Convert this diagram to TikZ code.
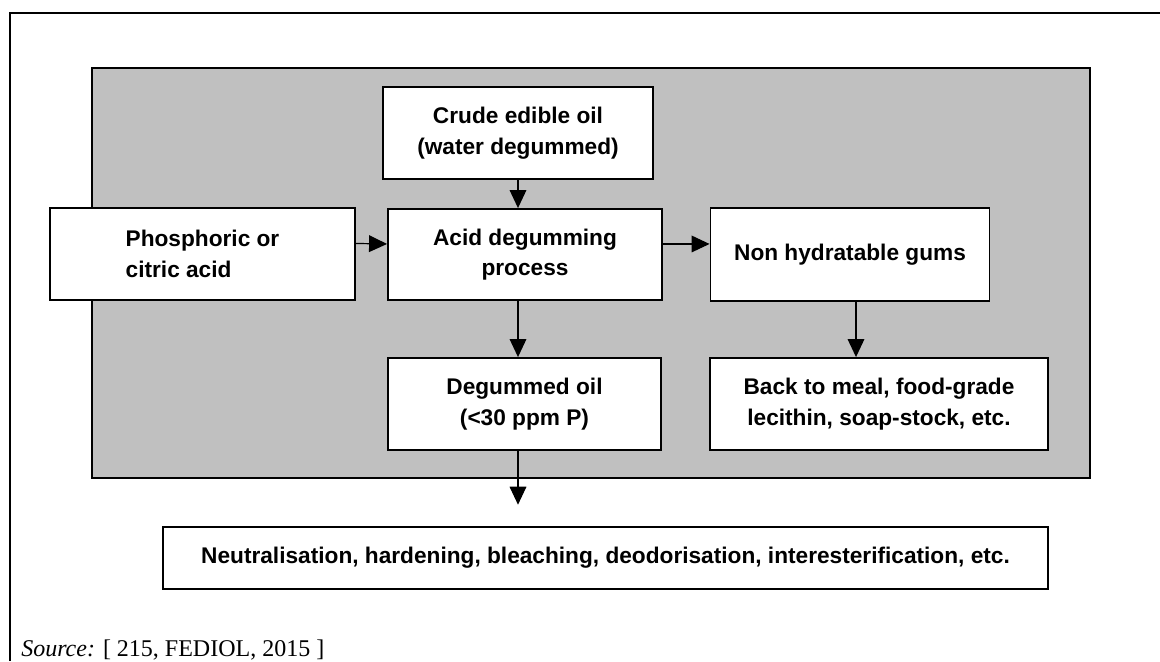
\documentclass[tikz,border=0pt]{standalone}
\usepackage{fontspec}
\setmainfont{Liberation Sans}
\newfontfamily\citefont{Liberation Serif}
\usetikzlibrary{arrows.meta, positioning}
\definecolor{panelgray}{RGB}{192,192,192}
\tikzset{
  procbox/.style = {draw=black, line width=1.4pt, fill=white, align=center,
                    inner sep=0pt, font=\fontsize{17}{23}\selectfont\bfseries},
  flow/.style    = {-{Triangle[length=13.5pt, width=12.5pt]}, line width=0.9pt},
}

\begin{document}
\begin{tikzpicture}[x=0.75pt, y=-0.75pt]
  \useasboundingbox (0,0) rectangle (1160,661);
  % frame and grey panel
  \draw[line width=2pt] (10,661) -- (10,13) -- (1160,13);
  \draw[fill=panelgray, line width=1pt] (92,68) rectangle (1090,478);
  % process boxes
  \node[procbox, minimum width=202.5pt, minimum height=69pt] (crude) at (518,133) {Crude edible oil\\(water degummed)};
  \node[procbox, align=left, minimum width=228.75pt, minimum height=69pt] (phos) at (202.5,254) {Phosphoric or\\citric acid};
  \node[procbox, minimum width=205.5pt, minimum height=68.25pt] (acid) at (525,254.5) {Acid degumming\\process};
  \node[procbox, minimum width=209.25pt, minimum height=69.75pt] (gums) at (850,254.5) {Non hydratable gums};
  \node[procbox, minimum width=204.75pt, minimum height=69pt] (degum) at (524.5,404) {Degummed oil\\(<30 ppm P)};
  \node[procbox, minimum width=253.5pt, minimum height=69pt] (meal) at (879,404) {Back to meal, food-grade\\lecithin, soap-stock, etc.};
  \node[procbox, minimum width=663.75pt, minimum height=46.5pt] (refine) at (605.5,558) {Neutralisation, hardening, bleaching, deodorisation, interesterification, etc.};
  % arrows
  \draw[flow] (crude.south) -- (crude.south |- acid.north);
  \draw[flow] ([yshift=7.9pt]phos.east) -- ([yshift=7.9pt]acid.west);
  \draw[flow] ([yshift=7.9pt]acid.east) -- ([yshift=7.9pt]gums.west);
  \draw[flow] (acid.south -| crude.south) -- (crude.south |- degum.north);
  \draw[flow] ([xshift=4.5pt]gums.south) -- ([xshift=4.5pt]gums.south |- meal.north);
  \draw[flow, shorten >=16pt] (crude.south |- degum.south) -- (crude.south |- refine.north);
  % source line
  \node[anchor=base west, inner sep=0pt, font=\citefont\fontsize{18}{22}\selectfont] (src) at (21,656) {\textit{Source:} [ 215, FEDIOL, 2015 ]};
\end{tikzpicture}
\end{document}
